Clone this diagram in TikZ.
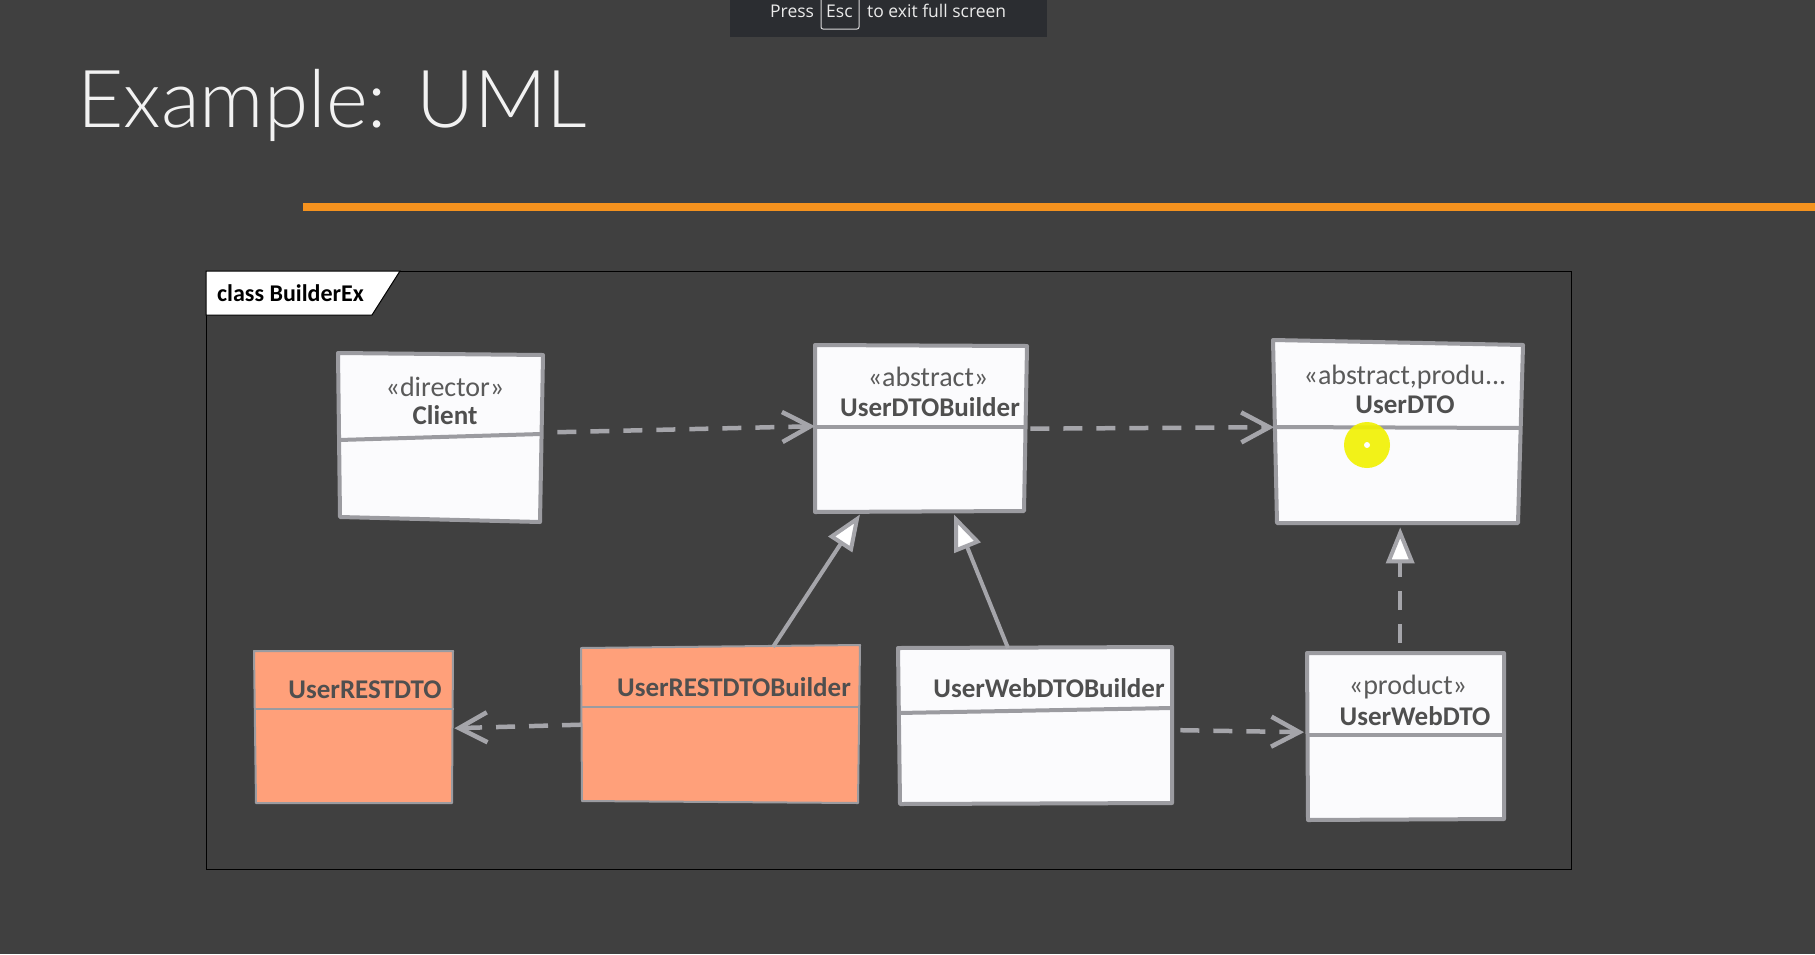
\documentclass[tikz,border=0pt]{standalone}
\usepackage{fontspec}
\setmainfont{Carlito}
\newfontfamily\titlefont{Lato Light}
\newfontfamily\barfont{Open Sans}
\usetikzlibrary{arrows.meta}

\definecolor{bgcol}{HTML}{404040}
\definecolor{barcol}{HTML}{2B2D31}
\definecolor{rulecol}{HTML}{F5921E}
\definecolor{boxline}{HTML}{9B9BA0}
\definecolor{boxfill}{HTML}{FBFBFD}
\definecolor{salmon}{HTML}{FFA07A}
\definecolor{linkcol}{HTML}{A5A5AA}
\definecolor{namecol}{HTML}{4F4F4F}
\definecolor{stereocol}{HTML}{5A5A5A}
\definecolor{cursorcol}{HTML}{F2F200}

\tikzset{
  classbox/.style={rectangle, inner sep=0pt, anchor=north west},
  sketch/.style={draw=boxline, line width=4pt, fill=boxfill, line join=round},
  orangesketch/.style={sketch, fill=salmon, line width=2pt},
  divider/.style={draw=boxline, line width=4pt},
  thindivider/.style={draw=boxline, line width=2pt},
  stereo/.style={inner sep=0pt, text=stereocol, font=\fontsize{28}{30}\selectfont},
  cname/.style={inner sep=0pt, text=namecol, font=\bfseries\fontsize{27}{29}\selectfont},
  depend/.style={draw=linkcol, line width=4.5pt, dash pattern=on 19pt off 14pt,
    -{Straight Barb[length=28pt,width=30pt]}},
  general/.style={draw=linkcol, line width=4pt, line join=round,
    -{Triangle[length=36pt,width=28pt,fill=white]}},
  realize/.style={general, dash pattern=on 19pt off 14pt},
  bartext/.style={anchor=base west, inner sep=0pt, text=white!92!black,
    font=\barfont\fontsize{17.5}{19}\selectfont},
}

\begin{document}
\begin{tikzpicture}[x=1pt, y=-1pt]
  % page and background
  \useasboundingbox (0,0) rectangle (1815,954);
  \fill[bgcol] (0,0) rectangle (1815,954);

  % full-screen hint bar
  \fill[barcol] (730,0) rectangle (1047,37);
  \draw[white!85!black, line width=1pt, rounded corners=2pt]
    (821,-3) -- (821,29) -- (859,29) -- (859,-3);
  \node[bartext] (press) at (770,17) {Press};
  \node[bartext] (esc) at (826,17) {Esc};
  \node[bartext] (exit) at (867,17) {to exit full screen};

  % slide title and rule
  \node[anchor=base west, inner sep=0pt, text=white!95!black,
        font=\titlefont\fontsize{80}{86}\selectfont] (title) at (77,127) {Example: UML};
  \fill[rulecol] (303,203) rectangle (1815,211);

  % diagram frame with its name tab
  \draw[black, line width=1pt] (206,271) rectangle (1571,869);
  \filldraw[fill=white, draw=black, line width=1pt]
    (206,271) -- (400,271) -- (372,315) -- (206,315) -- cycle;
  \node[anchor=west, inner sep=0pt, text=black,
        font=\bfseries\fontsize{24}{26}\selectfont] (frametitle) at (217,293) {class BuilderEx};

  % class outlines, slightly hand-drawn
  \filldraw[sketch] (338,353) -- (543,355) -- (540,522) -- (340,517) -- cycle;
  \filldraw[sketch] (815,345) -- (1027,346) -- (1024,511) -- (815,512) -- cycle;
  \filldraw[sketch] (1273,340) -- (1523,345) -- (1518,523) -- (1277,523) -- cycle;
  \filldraw[orangesketch] (254,651) -- (453,651) -- (452,803) -- (256,803) -- cycle;
  \filldraw[orangesketch] (581,648) -- (860,645) -- (858,803) -- (582,801) -- cycle;
  \filldraw[sketch] (898,648) -- (1172,647) -- (1172,803) -- (900,804) -- cycle;
  \filldraw[sketch] (1307,653) -- (1504,653) -- (1504,819) -- (1308,820) -- cycle;

  % classes, top row
  \node[classbox, minimum width=204pt, minimum height=167pt] (client) at (339,353) {};
  \draw[divider] (339,440) -- (541,434);
  \node[stereo] (clientst) at (445,387) {«director»};
  \node[cname] (clientnm) at (445,415) {Client};

  \node[classbox, minimum width=212pt, minimum height=167pt] (udb) at (815,345) {};
  \draw[divider] (815,427) -- (1026,427);
  \node[stereo] (udbst) at (928,377) {«abstract»};
  \node[cname] (udbnm) at (930,407) {UserDTOBuilder};

  \node[classbox, minimum width=248pt, minimum height=183pt] (udto) at (1274,341) {};
  \draw[divider] (1274,427) -- (1521,428);
  \node[stereo] (udtost) at (1405,377) {«abstract,produ...};
  \node[cname] (udtonm) at (1405,405) {UserDTO};

  % pointer highlight
  \fill[cursorcol, opacity=0.9] (1367,445) circle (23pt);
  \fill[white] (1367,445) circle (3pt);

  % classes, bottom row
  \node[classbox, minimum width=200pt, minimum height=153pt] (urd) at (254,650) {};
  \draw[thindivider] (254,709) -- (454,709);
  \node[cname] (urdnm) at (365,690) {UserRESTDTO};

  \node[classbox, minimum width=279pt, minimum height=155pt] (urdb) at (581,647) {};
  \draw[thindivider] (581,707) -- (860,707);
  \node[cname] (urdbnm) at (734,687) {UserRESTDTOBuilder};

  \node[classbox, minimum width=274pt, minimum height=155pt] (uwdb) at (898,648) {};
  \draw[divider] (898,713) -- (1172,708);
  \node[cname] (uwdbnm) at (1049,688) {UserWebDTOBuilder};

  \node[classbox, minimum width=197pt, minimum height=165pt] (uwd) at (1307,653) {};
  \draw[divider] (1307,735) -- (1506,735);
  \node[stereo] (uwdst) at (1408,687) {«product»};
  \node[cname] (uwdnm) at (1415,716) {UserWebDTO};

  % dependencies
  \draw[depend] ([xshift=14pt,yshift=4.5pt]client.east) -- ([yshift=2.5pt]udb.west);
  \draw[depend] ([xshift=3pt]udb.east) -- ([yshift=5.5pt]udto.west);
  \draw[depend] (urdb.west) -- ([yshift=-1.5pt]urd.east);
  \draw[depend] ([xshift=8pt,yshift=-4.5pt]uwdb.east) -- ([xshift=-3pt,yshift=3.5pt]uwd.west);

  % generalizations and realization
  \draw[general] ([xshift=192pt]urdb.north west) -- ([xshift=45pt,yshift=-2pt]udb.south west);
  \draw[general] ([xshift=110pt]uwdb.north west) -- ([xshift=139pt,yshift=-2pt]udb.south west);
  \draw[realize] ([xshift=-5.5pt,yshift=10pt]uwd.north) -- ([xshift=2pt,yshift=-3pt]udto.south);
\end{tikzpicture}
\end{document}
